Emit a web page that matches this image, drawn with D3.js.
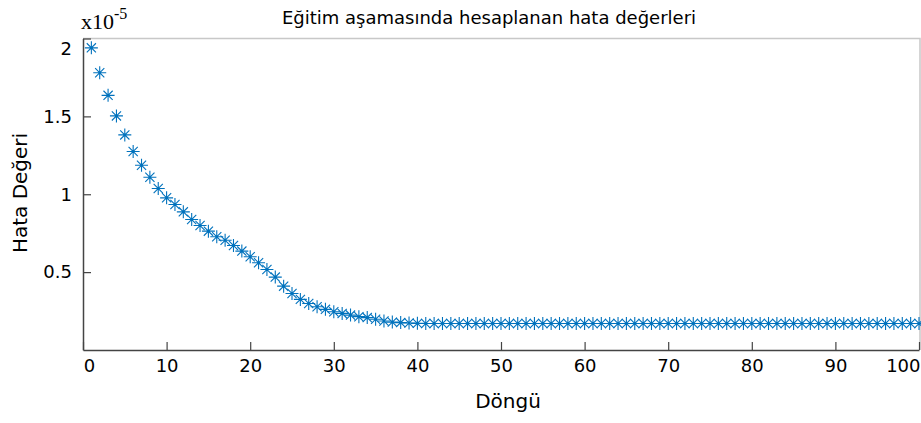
<!DOCTYPE html>
<html><head><meta charset="utf-8">
<script src="https://cdn.jsdelivr.net/npm/d3@7/dist/d3.min.js"></script>
<style>body{margin:0;background:#fff}svg{display:block}</style>
</head><body>
<svg id="c" width="921" height="423"></svg>
<script>
// Iteration number (Döngü)
const iterations = d3.range(1, 101);
// Error values, in units of 1e-5
const errorValues = [
  1.94, 1.78, 1.635, 1.503, 1.381, 1.274, 1.186, 1.109, 1.037, 0.977,
  0.934, 0.887, 0.838, 0.799, 0.763, 0.727, 0.705, 0.671, 0.635, 0.599,
  0.560, 0.517, 0.468, 0.410, 0.363, 0.325, 0.299, 0.278, 0.261, 0.246,
  0.235, 0.224, 0.214, 0.208, 0.197, 0.186, 0.179, 0.176, 0.173, 0.171,
  0.170, 0.170, 0.170, 0.170, 0.170, 0.170, 0.170, 0.170, 0.170, 0.170,
  0.170, 0.170, 0.170, 0.170, 0.170, 0.170, 0.170, 0.170, 0.170, 0.170,
  0.170, 0.170, 0.170, 0.170, 0.170, 0.170, 0.170, 0.170, 0.170, 0.170,
  0.170, 0.170, 0.170, 0.170, 0.170, 0.170, 0.170, 0.170, 0.170, 0.170,
  0.170, 0.170, 0.170, 0.170, 0.170, 0.170, 0.170, 0.170, 0.170, 0.170,
  0.170, 0.170, 0.170, 0.170, 0.170, 0.170, 0.170, 0.170, 0.170, 0.170
];
const xTicks = [0, 10, 20, 30, 40, 50, 60, 70, 80, 90, 100];
const yTicks = [0.5, 1, 1.5, 2];
const titleText = "Eğitim aşamasında hesaplanan hata değerleri";
const xLabel = "Döngü";
const yLabel = "Hata Değeri";

const svg = d3.select("#c");
const L = 83, R = 919, T = 38.5, B = 350;
const x = d3.scaleLinear().domain([0, 100]).range([L, R]);
const y = d3.scaleLinear().domain([0, 2]).range([B, T]);
const uiFont = "'DejaVu Sans', Verdana, sans-serif";

// frame (top/right light)
svg.append("path").attr("d", `M${L},${T}H${R+1}V${B}`).attr("fill","none")
  .attr("stroke","#c8c8c8").attr("stroke-width",1.5);

// x axis
const gx = svg.append("g").attr("transform", `translate(0,${B})`)
  .call(d3.axisBottom(x).tickValues(xTicks).tickSize(-8).tickPadding(12).tickSizeOuter(0));
// y axis
const gy = svg.append("g").attr("transform", `translate(${L},0)`)
  .call(d3.axisLeft(y).tickValues(yTicks).tickSize(-8).tickPadding(11).tickSizeOuter(0)
    .tickFormat(d3.format("")));
[gx, gy].forEach(g => {
  g.select(".domain").attr("stroke","#444").attr("stroke-width",1.5);
  g.selectAll(".tick line").attr("stroke","#444").attr("stroke-width",1.2);
  g.selectAll(".tick text").attr("fill","#000").attr("font-family", uiFont).attr("font-size", 18);
});
gx.selectAll(".tick text").attr("y", 22).attr("dy", 0);
// keep end labels inside the figure like the original
gx.selectAll(".tick text").filter(d => d === 0).attr("dx", 6);
gx.selectAll(".tick text").filter(d => d === 100).attr("text-anchor", "end")
  .attr("x", 920 - x(100));
gy.selectAll(".tick text").filter(d => d === 2).attr("dy", "0.9em");

// markers (asterisks)
const star = "M0,-6.5V6.5M-6.5,0H6.5M-4.6,-4.6L4.6,4.6M-4.6,4.6L4.6,-4.6";
svg.append("g").selectAll("path").data(iterations).join("path")
  .attr("transform", (d, i) => `translate(${x(d)},${y(errorValues[i])})`)
  .attr("d", star).attr("fill","none").attr("stroke","#0072BD")
  .attr("stroke-width",1.1);

// title
svg.append("text").attr("x", 489).attr("y", 24).attr("text-anchor","middle")
  .attr("font-family", uiFont).attr("font-size", 18).attr("fill","#000").text(titleText);

// exponent
const ex = svg.append("text").attr("x", 81).attr("y", 29)
  .attr("font-family","'Liberation Serif', 'Times New Roman', serif").attr("font-size", 22).attr("fill","#000");
ex.append("tspan").text("x10");
ex.append("tspan").attr("dy", -10).attr("font-size", 16).text("-5");

// axis labels
svg.append("text").attr("x", 508).attr("y", 408).attr("text-anchor","middle")
  .attr("font-family", uiFont).attr("font-size", 20).attr("fill","#000").text(xLabel);
svg.append("text").attr("transform", "translate(27,193) rotate(-90)").attr("text-anchor","middle")
  .attr("font-family", uiFont).attr("font-size", 20).attr("fill","#000").text(yLabel);
</script>
</body></html>
